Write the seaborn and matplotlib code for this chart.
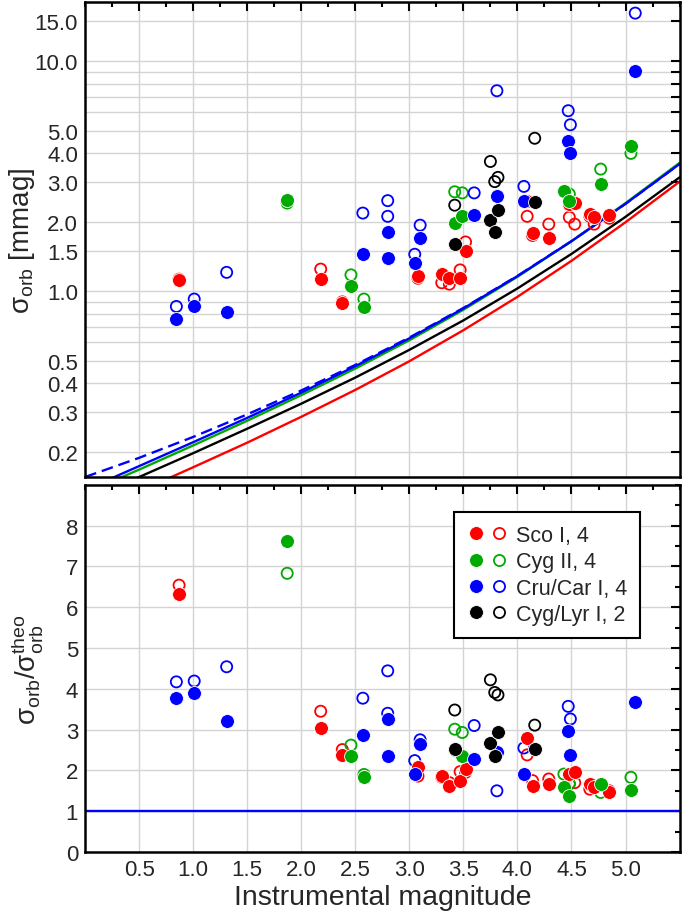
import numpy as np
import pandas as pd
import matplotlib
matplotlib.use('Agg')
import matplotlib.pyplot as plt
from matplotlib.lines import Line2D
from matplotlib.legend_handler import HandlerTuple
from matplotlib.ticker import FixedLocator, FixedFormatter, MultipleLocator, NullLocator
import seaborn as sns

# ---- data ----
RED, GREEN, BLUE, BLACK = '#ff0000', '#00aa00', '#0000ff', '#000000'

# Sco I
sco_mag      = [0.87, 2.18, 2.38, 3.08, 3.30, 3.37, 3.47, 3.52, 4.09, 4.14, 4.29, 4.48, 4.53, 4.67, 4.71, 4.85]
sco_top_fill = [1.12, 1.13, 0.89, 1.17, 1.19, 1.14, 1.14, 1.50, 2.48, 1.80, 1.70, 2.40, 2.42, 2.17, 2.10, 2.15]
sco_top_open = [1.13, 1.25, 0.90, 1.14, 1.09, 1.075, 1.24, 1.64, 2.12, 1.75, 1.96, 2.10, 1.96, 2.12, 1.96, 2.08]
sco_bot_fill = [6.32, 3.03, 2.38, 2.08, 1.86, 1.63, 1.75, 2.03, 2.79, 1.63, 1.67, 1.91, 1.96, 1.67, 1.59, 1.48]
sco_bot_open = [6.54, 3.45, 2.51, 1.86, 1.83, 1.70, 1.97, 1.95, 2.38, 1.75, 1.79, 1.67, 1.70, 1.54, 1.62, 1.50]

# Cyg II
cyg_mag      = [1.87, 2.46, 2.58, 3.42, 3.49, 4.43, 4.48, 4.77, 5.05]
cyg_top_fill = [2.49, 1.06, 0.852, 1.98, 2.13, 2.74, 2.48, 2.93, 4.30]
cyg_top_open = [2.42, 1.18, 0.926, 2.71, 2.68, 2.72, 2.65, 3.40, 3.98]
cyg_bot_fill = [7.63, 2.35, 1.83, 2.51, 2.35, 1.60, 1.38, 1.67, 1.52]
cyg_bot_open = [6.83, 2.62, 1.90, 3.01, 2.93, 1.91, 1.67, 1.46, 1.83]

# Cru/Car I
cru_mag      = [0.845, 1.01, 1.31, 2.57, 2.80, 2.80, 3.05, 3.10, 3.60, 3.81, 4.06, 4.47, 4.49, 5.09]
cru_top_fill = [0.76, 0.86, 0.815, 1.46, 1.81, 1.40, 1.33, 1.70, 2.15, 2.60, 2.48, 4.52, 3.99, 9.05]
cru_top_open = [0.86, 0.926, 1.21, 2.19, 2.48, 2.12, 1.45, 1.94, 2.68, 7.45, 2.86, 6.10, 5.30, 16.2]
cru_bot_fill = [3.77, 3.89, 3.20, 2.87, 3.26, 2.35, 1.91, 2.65, 2.28, 2.44, 1.91, 2.97, 2.38, 3.67]
cru_bot_open = [4.17, 4.19, 4.54, 3.77, 4.44, 3.40, 2.24, 2.75, 3.10, 1.50, 2.55, 3.57, 3.26, np.nan]

# Cyg/Lyr I
lyr_mag      = [3.42, 3.75, 3.79, 3.82, 4.16]
lyr_top_fill = [1.60, 2.05, 1.82, 2.26, 2.45]
lyr_top_open = [2.37, 3.67, 3.00, 3.13, 4.63]
lyr_bot_fill = [2.52, 2.67, 2.35, 2.93, 2.52]
lyr_bot_open = [3.48, 4.22, 3.91, 3.85, 3.11]

# theoretical curves
theo_mag   = [0.0, 0.5, 1.0, 1.5, 2.0, 2.5, 3.0, 3.5, 4.0, 4.5, 5.0, 5.5]
theo_sco   = [0.106, 0.135, 0.172, 0.220, 0.285, 0.373, 0.497, 0.678, 0.947, 1.358, 1.998, 3.00]
theo_cyg   = [0.133, 0.168, 0.214, 0.274, 0.354, 0.462, 0.613, 0.832, 1.157, 1.652, 2.419, 3.62]
theo_cru   = [0.137, 0.174, 0.221, 0.282, 0.363, 0.473, 0.625, 0.843, 1.165, 1.652, 2.403, 3.58]
theo_cru_d = [0.156, 0.189, 0.233, 0.292, 0.371, 0.479, 0.630, 0.847, 1.167, 1.654, 2.404, 3.58]
theo_lyr   = [0.123, 0.156, 0.198, 0.253, 0.325, 0.422, 0.557, 0.748, 1.030, 1.455, 2.109, 3.13]

top_ticks = [0.2, 0.3, 0.4, 0.5, 0.6, 0.7, 0.8, 0.9, 1.0, 1.5, 2, 3, 4, 5, 6, 7, 8, 9, 10, 15]
top_labels = ['0.2', '0.3', '0.4', '0.5', '', '', '', '', '1.0', '1.5', '2.0', '3.0',
              '4.0', '5.0', '', '', '', '', '10.0', '15.0']

groups = [
    ('Sco I, 4', RED, sco_mag, sco_top_fill, sco_top_open, sco_bot_fill, sco_bot_open),
    ('Cyg II, 4', GREEN, cyg_mag, cyg_top_fill, cyg_top_open, cyg_bot_fill, cyg_bot_open),
    ('Cru/Car I, 4', BLUE, cru_mag, cru_top_fill, cru_top_open, cru_bot_fill, cru_bot_open),
    ('Cyg/Lyr I, 2', BLACK, lyr_mag, lyr_top_fill, lyr_top_open, lyr_bot_fill, lyr_bot_open),
]

sns.set_style('white')
plt.rcParams['font.family'] = ['Liberation Sans', 'DejaVu Sans']
plt.rcParams['mathtext.fontset'] = 'custom'
plt.rcParams['mathtext.rm'] = 'Liberation Sans'
plt.rcParams['mathtext.it'] = 'Liberation Sans:italic'

FILL_S, OPEN_S = 100, 64

fig = plt.figure(figsize=(6.97, 9.2), dpi=100)
ax1 = fig.add_axes([0.122, 0.4804, 0.853, 0.5163])
ax2 = fig.add_axes([0.122, 0.0728, 0.853, 0.3992])


def style_axis(ax):
    for s in ax.spines.values():
        s.set_linewidth(1.8)
        s.set_color('black')
    ax.tick_params(which='both', direction='in', top=True, right=True,
                   width=1.5, labelsize=16, pad=5, color='black')
    ax.tick_params(which='major', length=6.5)
    ax.tick_params(which='minor', length=3.5)
    ax.set_axisbelow(True)
    ax.grid(True, which='major', color='#d4d4d4', lw=1.0)
    ax.set_xlim(0, 5.5)
    ax.xaxis.set_major_locator(FixedLocator([0.5, 1.0, 1.5, 2.0, 2.5, 3.0, 3.5, 4.0, 4.5, 5.0]))
    ax.xaxis.set_major_formatter(FixedFormatter(['0.5', '1.0', '1.5', '2.0', '2.5', '3.0',
                                                 '3.5', '4.0', '4.5', '5.0']))
    ax.xaxis.set_minor_locator(MultipleLocator(0.25))


def draw_points(ax, mag, open_v, fill_v, color):
    d = pd.DataFrame({'mag': mag, 'open': open_v, 'fill': fill_v})
    o = d.dropna(subset=['open'])
    f = d.dropna(subset=['fill'])
    sns.scatterplot(data=o, x='mag', y='open', ax=ax, marker='o', s=OPEN_S,
                    color=color, facecolor='none', edgecolor=color, linewidth=1.3, zorder=3)
    sns.scatterplot(data=f, x='mag', y='fill', ax=ax, marker='o', s=FILL_S,
                    color=color, edgecolor='white', linewidth=0.6, zorder=4)


# ---- top panel ----
ax1.set_yscale('log')
curves = [(theo_cru_d, BLUE, (0, (5, 2.5))), (theo_sco, RED, '-'), (theo_lyr, BLACK, '-'),
          (theo_cyg, GREEN, '-'), (theo_cru, BLUE, '-')]
for ys, c, ls in curves:
    sns.lineplot(x=theo_mag, y=ys, ax=ax1, color=c, linestyle=ls, lw=1.7,
                 estimator=None, sort=False, zorder=2)

for name, c, mag, tf, to, bf, bo in groups:
    draw_points(ax1, mag, to, tf, c)

style_axis(ax1)
ax1.set_ylim(0.156, 18.1)
ax1.yaxis.set_major_locator(FixedLocator(top_ticks))
ax1.yaxis.set_major_formatter(FixedFormatter(top_labels))
ax1.yaxis.set_minor_locator(NullLocator())
ax1.tick_params(axis='x', labelbottom=False)
ax1.set_xlabel('')
ax1.set_ylabel('σ$_\\mathrm{orb}$ [mmag]', fontsize=20)
ax1.yaxis.set_label_coords(-0.080, 0.5)

# ---- bottom panel ----
sns.lineplot(x=[0, 5.5], y=[1, 1], ax=ax2, color=BLUE, lw=1.7, estimator=None, zorder=2)
for name, c, mag, tf, to, bf, bo in groups:
    draw_points(ax2, mag, bo, bf, c)

style_axis(ax2)
ax2.set_ylim(0, 9)
ax2.yaxis.set_major_locator(FixedLocator(list(range(0, 9))))
ax2.yaxis.set_minor_locator(MultipleLocator(0.5))
ax2.set_xlabel('Instrumental magnitude', fontsize=20.5, labelpad=3)
ax2.set_ylabel('σ$_\\mathrm{orb}$/σ$_\\mathrm{orb}^\\mathrm{theo}$', fontsize=20)
ax2.yaxis.set_label_coords(-0.068, 0.5)

handles = []
labels = []
for name, c, *_ in groups:
    hf = Line2D([], [], ls='', marker='o', ms=10.0, color=c, mec='white', mew=0.6)
    ho = Line2D([], [], ls='', marker='o', ms=8.0, mfc='none', mec=c, mew=1.3)
    handles.append((hf, ho))
    labels.append(name)
leg = ax2.legend(handles, labels, handler_map={tuple: HandlerTuple(ndivide=None, pad=0.2)},
                 loc='upper left', bbox_to_anchor=(0.621, 0.926), borderaxespad=0,
                 fontsize=15.5, frameon=True, fancybox=False, framealpha=1,
                 handlelength=1.9, handletextpad=0.35, labelspacing=0.25,
                 borderpad=0.6)
leg.get_frame().set_edgecolor('black')
leg.get_frame().set_linewidth(1.5)

fig.savefig('out.png', dpi=100)
